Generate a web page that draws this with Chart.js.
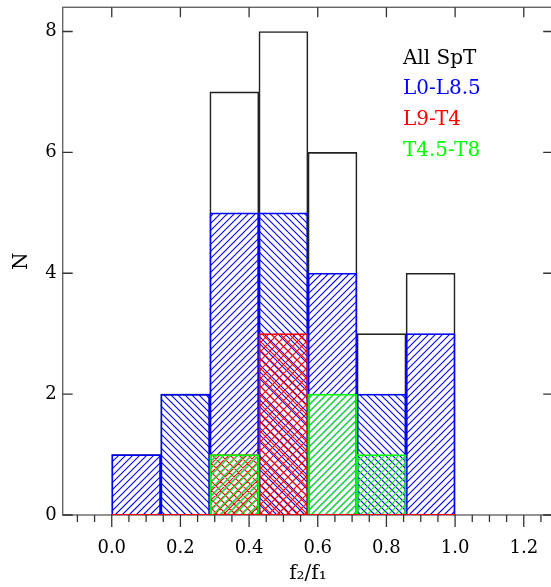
<!DOCTYPE html>
<html><head><meta charset="utf-8">
<script src="https://cdn.jsdelivr.net/npm/chart.js@4/dist/chart.umd.min.js"></script>
<style>html,body{margin:0;padding:0;overflow:hidden;background:#fff}
#wrap{width:556px;height:587px;position:relative}</style>
</head><body><div id="wrap"><canvas id="c"></canvas></div>
<script>
// bins of f2/f1 (edges) and counts per spectral-type group
const binEdges = [0, 0.142857, 0.285714, 0.428571, 0.571429, 0.714286, 0.857143, 1.0];
const allSpT   = [1, 2, 7, 8, 6, 3, 4];
const earlyL   = [1, 2, 5, 5, 4, 2, 3];   // L0-L8.5
const lateLT   = [0, 0, 1, 3, 0, 0, 0];   // L9-T4
const lateT    = [0, 0, 1, 0, 2, 1, 0];   // T4.5-T8
const seriesNames = ['All SpT', 'L0-L8.5', 'L9-T4', 'T4.5-T8'];
const xMajorTicks = [0, 0.2, 0.4, 0.6, 0.8, 1.0, 1.2];
const xMinorTicks = [-0.1,-0.05,0.05,0.1,0.15,0.25,0.3,0.35,0.45,0.5,0.55,0.65,0.7,0.75,0.85,0.9,0.95,1.05,1.1,1.15,1.25];
const yMajorTicks = [0, 2, 4, 6, 8];

const colors = ['#000000', '#0000ff', '#ff0000', '#00ff00'];
const FONT = "'DejaVu Serif', serif";

// hatch style per dataset index (bar index -> directions)
const hatchSpec = {
  1: i => ({color: colors[1], dirs: i % 2 ? '\\' : '/', p: 7}),
  2: i => ({color: colors[2], dirs: '/\\', p: 9}),
  3: i => ({color: colors[3], dirs: '/', p: 7})
};

const centers = binEdges.slice(0, -1).map((e, i) => (e + binEdges[i + 1]) / 2);
const pts = arr => arr.map((v, i) => ({x: centers[i], y: v}));

const hatchPlugin = {
  id: 'hatch',
  beforeDatasetDraw(chart, args) {
    const fn = hatchSpec[args.index]; if (!fn) return;
    const ctx = chart.ctx;
    args.meta.data.forEach((el, i) => {
      const {x, y, base, width} = el.getProps(['x', 'y', 'base', 'width'], true);
      const L = x - width / 2, R = x + width / 2, T = Math.min(y, base), B = Math.max(y, base);
      if (B - T < 0.5) return;
      const s = fn(i), p = s.p;
      ctx.save();
      ctx.beginPath(); ctx.rect(L, T, R - L, B - T); ctx.clip();
      ctx.strokeStyle = s.color; ctx.lineWidth = 1.1;
      ctx.beginPath();
      if (s.dirs.indexOf('/') >= 0) {
        for (let c = Math.floor((L + T) / p) * p; c <= R + B + p; c += p) { ctx.moveTo(c - T, T); ctx.lineTo(c - B, B); }
      }
      if (s.dirs.indexOf('\\') >= 0) {
        for (let c = Math.floor((L - B) / p) * p; c <= R - T + p; c += p) { ctx.moveTo(c + T, T); ctx.lineTo(c + B, B); }
      }
      ctx.stroke();
      ctx.restore();
    });
  }
};

const framePlugin = {
  id: 'frame',
  beforeDatasetsDraw(chart) {
    const {ctx, chartArea: a, scales: {x, y}} = chart;
    ctx.save();
    ctx.strokeStyle = '#666'; ctx.lineWidth = 1.4;
    ctx.strokeRect(a.left, a.top, a.right - a.left, a.bottom - a.top);
    ctx.strokeStyle = '#333'; ctx.lineWidth = 1.3;
    ctx.beginPath();
    for (const v of xMinorTicks) { const p = x.getPixelForValue(v); ctx.moveTo(p, a.bottom); ctx.lineTo(p, a.bottom + 7); }
    for (const v of xMajorTicks) { const p = x.getPixelForValue(v);
      ctx.moveTo(p, a.bottom); ctx.lineTo(p, a.bottom + 12);
      ctx.moveTo(p, a.top); ctx.lineTo(p, a.top + 10); }
    for (const v of yMajorTicks) { const p = y.getPixelForValue(v);
      ctx.moveTo(a.left, p); ctx.lineTo(a.left + 10, p);
      ctx.moveTo(a.right, p); ctx.lineTo(a.right - 10, p); }
    ctx.stroke();
    ctx.restore();
  },
  afterDraw(chart) {
    const {ctx, scales: {x, y}} = chart;
    ctx.save();
    ctx.font = '20px ' + FONT; ctx.textAlign = 'left'; ctx.textBaseline = 'alphabetic';
    const lx = x.getPixelForValue(0.848);
    const ly = [7.47, 6.96, 6.45, 5.94];
    seriesNames.forEach((n, i) => { ctx.fillStyle = colors[i]; ctx.fillText(n, lx, y.getPixelForValue(ly[i])); });
    ctx.restore();
  }
};

const barCommon = {type: 'bar', grouped: false, barPercentage: 1, categoryPercentage: 1, borderWidth: 1, borderSkipped: 'start', backgroundColor: 'rgba(0,0,0,0)'};
const noPad = s => { s.paddingTop = 0; s.paddingBottom = 0; s.paddingLeft = 0; s.paddingRight = 0; };

new Chart(document.getElementById('c'), {
  data: {
    datasets: [
      Object.assign({}, barCommon, {label: seriesNames[0], data: pts(allSpT), borderColor: '#222', order: 5}),
      Object.assign({}, barCommon, {label: seriesNames[1], data: pts(earlyL), borderColor: colors[1], order: 4}),
      Object.assign({}, barCommon, {label: seriesNames[2], data: pts(lateLT), borderColor: colors[2], order: 3}),
      Object.assign({}, barCommon, {label: seriesNames[3], data: pts(lateT), borderColor: colors[3], order: 2}),
      {type: 'line', label: 'base', data: [{x: binEdges[0], y: lateLT[0]}, {x: binEdges[binEdges.length - 1], y: lateLT[lateLT.length - 1]}],
       borderColor: colors[2], borderWidth: 2, pointRadius: 0, order: 1}
    ]
  },
  options: {
    responsive: true, maintainAspectRatio: false, animation: false,
    layout: {padding: {top: 7.3, right: 2.8, left: 0, bottom: 0}},
    plugins: {legend: {display: false}, tooltip: {enabled: false}},
    scales: {
      x: {
        type: 'linear', min: -0.142857, max: 1.285714, offset: false,
        grid: {display: false, drawTicks: false}, border: {display: false},
        ticks: {stepSize: 0.2, includeBounds: false, padding: 23, color: '#000', font: {family: FONT, size: 18},
                callback: v => v.toFixed(1), maxRotation: 0, autoSkip: false},
        title: {display: true, text: 'f\u2082/f\u2081', color: '#000', font: {family: FONT, size: 20}, padding: {top: 0, bottom: 1}},
        afterFit: s => { s.height = 72; noPad(s); }
      },
      y: {
        min: 0, max: 8.4,
        grid: {display: false, drawTicks: false}, border: {display: false},
        ticks: {stepSize: 2, includeBounds: false, padding: 6, color: '#000', font: {family: FONT, size: 18}},
        title: {display: true, text: 'N', color: '#000', font: {family: FONT, size: 20}, padding: {top: 10, bottom: 0}},
        afterFit: s => { s.width = 62.7; noPad(s); }
      }
    }
  },
  plugins: [hatchPlugin, framePlugin]
});
</script></body></html>
